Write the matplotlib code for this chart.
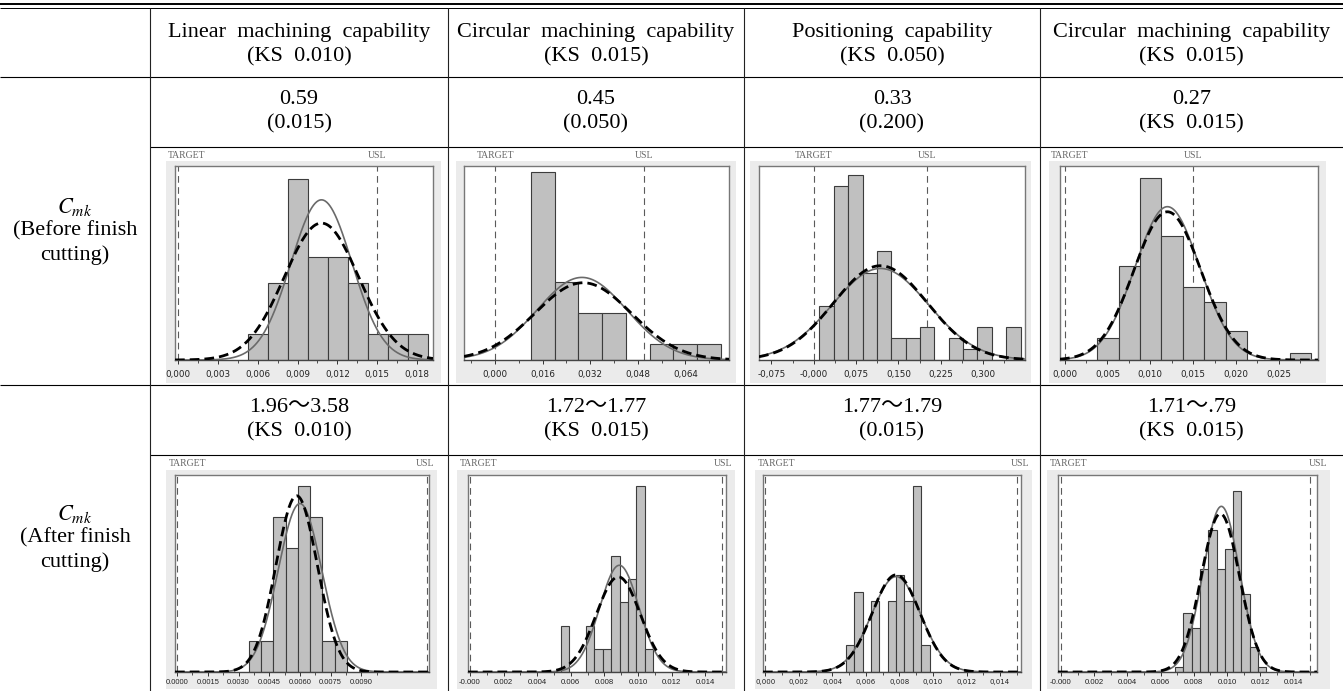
import numpy as np
import matplotlib
matplotlib.use("Agg")
import matplotlib.pyplot as plt
from matplotlib.patches import Rectangle
from matplotlib.lines import Line2D

plt.rcParams['mathtext.fontset'] = 'stix'

W, H = 1343, 691

# ---------------- table text ----------------
col_headers = ["Linear  machining  capability", "Circular  machining  capability",
               "Positioning  capability", "Circular  machining  capability"]
col_specs = ["(KS  0.010)", "(KS  0.015)", "(KS  0.050)", "(KS  0.015)"]
before_values = ["0.59", "0.45", "0.33", "0.27"]
before_notes = ["(0.015)", "(0.050)", "(0.200)", "(KS  0.015)"]
after_values = ["1.96\uff5e3.58", "1.72\uff5e1.77", "1.77\uff5e1.79", "1.71\uff5e.79"]
after_notes = ["(KS  0.010)", "(KS  0.015)", "(0.015)", "(KS  0.015)"]
row_labels = [["(Before finish", "cutting)"], ["(After finish", "cutting)"]]

# ---------------- histogram data (8 panels: 4 before, 4 after) ----------------
bin_starts = [0.0053, 0.012, 0.010, 0.0038, 0.0035, 0.0054, 0.0048, 0.00687]
bin_widths = [0.0015, 0.008, 0.02545, 0.0025, 0.0006, 0.0005, 0.0005, 0.0005]
counts = [
    [1, 3, 7, 4, 4, 3, 1, 1, 1],
    [12, 5, 3, 3, 0, 1, 1, 1],
    [5, 16, 17, 8, 10, 2, 2, 3, 0, 2, 1, 3, 0, 3],
    [3, 13, 25, 17, 10, 8, 4, 0, 0, 1],
    [1, 1, 5, 4, 6, 5, 1, 1],
    [2, 0, 0, 2, 1, 1, 5, 3, 4, 8, 1],
    [3, 9, 0, 8, 0, 8, 11, 8, 21, 3],
    [1, 12, 9, 21, 29, 21, 25, 37, 16, 5, 1],
]
targets = [0.0, 0.0, 0.0, 0.0, 0.0, 0.0, 0.0, 0.0]
usls = [0.015, 0.050, 0.200, 0.015, 0.0122, 0.015, 0.015, 0.015]
# fitted normal curves: (mean, sd, peak height in counts)
within_fit = [(0.0108, 0.0023, 6.2), (0.0292, 0.0151, 5.27), (0.118, 0.085, 8.4),
              (0.0120, 0.00378, 21.1), (0.0060, 0.00106, 5.43), (0.00889, 0.00117, 4.6),
              (0.0078, 0.00146, 10.8), (0.00966, 0.0011, 33.8)]
overall_fit = [(0.0108, 0.0028, 5.3), (0.0296, 0.0162, 4.93), (0.118, 0.083, 8.65),
               (0.0120, 0.0039, 20.4), (0.00584, 0.00101, 5.68), (0.00883, 0.00131, 4.1),
               (0.0078, 0.00143, 11.0), (0.0096, 0.00115, 32.3)]
x_limits = [(-0.00023, 0.0192), (-0.0105, 0.0787), (-0.0971, 0.3741), (-0.00054, 0.02958),
            (-0.0001, 0.0123), (-0.00012, 0.01524), (-0.00014, 0.01525), (-0.00018, 0.01542)]
y_maxes = [7.51, 12.38, 17.8, 26.7, 6.35, 8.49, 22.3, 40.2]
tick_values = [
    [0.0, 0.003, 0.006, 0.009, 0.012, 0.015, 0.018],
    [0.0, 0.016, 0.032, 0.048, 0.064],
    [-0.075, 0.0, 0.075, 0.150, 0.225, 0.300],
    [0.0, 0.005, 0.010, 0.015, 0.020, 0.025],
    [0.0, 0.0015, 0.0030, 0.0045, 0.0060, 0.0075, 0.0090],
    [0.0, 0.002, 0.004, 0.006, 0.008, 0.010, 0.012, 0.014],
    [0.0, 0.002, 0.004, 0.006, 0.008, 0.010, 0.012, 0.014],
    [0.0, 0.002, 0.004, 0.006, 0.008, 0.010, 0.012, 0.014],
]
tick_labels = [
    ["0,000", "0,003", "0,006", "0,009", "0,012", "0,015", "0,018"],
    ["0,000", "0,016", "0,032", "0,048", "0,064"],
    ["-0,075", "-0,000", "0,075", "0,150", "0,225", "0,300"],
    ["0,000", "0,005", "0,010", "0,015", "0,020", "0,025"],
    ["0.0000", "0.0015", "0.0030", "0.0045", "0.0060", "0.0075", "0.0090"],
    ["-0.000", "0.002", "0.004", "0.006", "0.008", "0.010", "0.012", "0.014"],
    ["0,000", "0,002", "0,004", "0,006", "0,008", "0,010", "0,012", "0,014"],
    ["-0.000", "0.002", "0.004", "0.006", "0.008", "0.010", "0.012", "0.014"],
]

# ---------------- layout (pixels) ----------------
col_x = [150, 448, 744, 1040, 1343]
box_lr = [(175, 433), (464, 729), (759, 1025), (1060, 1318),
          (175, 429), (468, 726), (763, 1021), (1058, 1317)]
grey_lr = [(166, 441), (456, 736), (750, 1031), (1049, 1326),
           (166, 437), (457, 735), (755, 1032), (1047, 1330)]
row_geom = [dict(top=166, base=360, gtop=161, gbot=383, lab=156, pad=4.0),
            dict(top=475, base=672, gtop=470, gbot=689, lab=464, pad=2.0)]
tick_font = [('DejaVu Sans', 6.3)] * 4 + [('Liberation Sans', 5.4), ('Liberation Sans', 5.6),
                                          ('DejaVu Sans', 5.0), ('Liberation Sans', 5.6)]

fig = plt.figure(figsize=(W / 100, H / 100), dpi=100)
fig.patch.set_facecolor('white')


def fx(x):
    return x / W


def fy(y):
    return 1 - y / H


def hline(y, x0, x1, lw=0.8):
    fig.add_artist(Line2D([fx(x0), fx(x1)], [fy(y), fy(y)], transform=fig.transFigure,
                          color='black', lw=lw, solid_capstyle='butt'))


def vline(x, y0, y1, lw=0.8):
    fig.add_artist(Line2D([fx(x), fx(x)], [fy(y0), fy(y1)], transform=fig.transFigure,
                          color='#222222', lw=lw, solid_capstyle='butt'))


serif = ['Liberation Serif', 'Noto Sans CJK KR', 'DejaVu Serif']


def ttext(x, y, s, size=16, **kw):
    fig.text(fx(x), fy(y), s, ha='center', va='center', fontsize=size, family=serif, **kw)


# table rules
hline(3.5, 0, W, lw=1.4)
hline(7.5, 0, W, lw=0.7)
hline(77, 0, W)
hline(147, col_x[0], W)
hline(385, 0, W)
hline(455, col_x[0], W)
for x in col_x[:4]:
    vline(x, 7.5, H)

# header / value text
for i in range(4):
    cx = (col_x[i] + col_x[i + 1]) / 2
    ttext(cx, 32, col_headers[i])
    ttext(cx, 57, col_specs[i])
    ttext(cx, 100, before_values[i])
    ttext(cx, 124, before_notes[i])
    ttext(cx, 408, after_values[i])
    ttext(cx, 432, after_notes[i])

# left column labels (centred in the merged cells)
for r, yc in enumerate([231, 538]):
    fig.text(fx(75), fy(yc - 24), r'$C_{mk}$', ha='center', va='center', fontsize=16)
    ttext(75, yc, row_labels[r][0])
    ttext(75, yc + 24, row_labels[r][1])

# histograms
for k in range(8):
    g = row_geom[k // 4]
    bl, br = box_lr[k]
    gl, gr = grey_lr[k]
    fig.add_artist(Rectangle((fx(gl), fy(g['gbot'])), (gr - gl) / W, (g['gbot'] - g['gtop']) / H,
                             transform=fig.transFigure, facecolor='#ebebeb', edgecolor='none',
                             zorder=-5))
    ax = fig.add_axes([fx(bl), fy(g['base']), (br - bl) / W, (g['base'] - g['top']) / H])
    ax.set_facecolor('white')
    xmin, xmax = x_limits[k]
    edges = bin_starts[k] + bin_widths[k] * np.arange(len(counts[k]))
    ax.bar(edges, counts[k], width=bin_widths[k], align='edge', color='#c0c0c0',
           edgecolor='#3c3c3c', linewidth=0.8, zorder=2)
    for v in (targets[k], usls[k]):
        ax.axvline(v, color='#5a5a5a', lw=0.8, ls=(0, (6, 4)), zorder=1)
    xs = np.linspace(xmin, xmax, 500)
    m, s, p = within_fit[k]
    ax.plot(xs, p * np.exp(-0.5 * ((xs - m) / s) ** 2), color='#6a6a6a', lw=1.2, zorder=3)
    m, s, p = overall_fit[k]
    ax.plot(xs, p * np.exp(-0.5 * ((xs - m) / s) ** 2), color='black', lw=2.0,
            ls=(0, (3.5, 1.8)), zorder=4)
    ax.set_xlim(xmin, xmax)
    ax.set_ylim(0, y_maxes[k])
    ax.set_yticks([])
    ax.set_xticks(tick_values[k])
    fam, fsz = tick_font[k]
    ax.set_xticklabels(tick_labels[k], fontsize=fsz, family=fam)
    tv = tick_values[k]
    step = tv[1] - tv[0]
    minor = [t + step / 2 for t in [tv[0] - step] + tv if xmin <= t + step / 2 <= xmax]
    ax.set_xticks(minor, minor=True)
    ax.tick_params(axis='x', which='major', direction='out', length=3, width=0.7,
                   pad=g['pad'], colors='#333333', labelcolor='#222222')
    ax.tick_params(axis='x', which='minor', direction='out', length=2, width=0.6,
                   colors='#333333')
    for name, sp in ax.spines.items():
        sp.set_color('#777777' if name != 'bottom' else '#444444')
        sp.set_linewidth(1.0)
    # TARGET / USL labels
    tpx = bl + (targets[k] - xmin) / (xmax - xmin) * (br - bl)
    upx = bl + (usls[k] - xmin) / (xmax - xmin) * (br - bl)
    lab_kw = dict(va='center', fontsize=7, family=serif, color='#666666')
    if k < 4:
        fig.text(fx(max(tpx, gl + 21)), fy(g['lab']), 'TARGET', ha='center', **lab_kw)
        fig.text(fx(upx), fy(g['lab']), 'USL', ha='center', **lab_kw)
    else:
        fig.text(fx(gl + 3), fy(g['lab']), 'TARGET', ha='left', **lab_kw)
        fig.text(fx(gr - 3), fy(g['lab']), 'USL', ha='right', **lab_kw)

fig.savefig('out.png', dpi=100, facecolor='white')
